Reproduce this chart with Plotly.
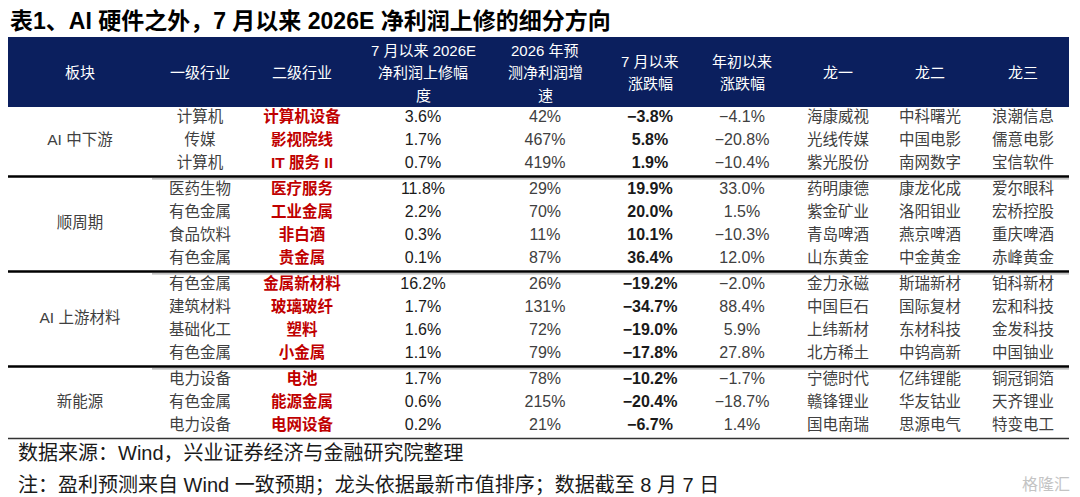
import plotly.graph_objects as go

# ---------------- 数据 ----------------
sectors = ["AI 中下游", "顺周期", "AI 上游材料", "新能源"]
group_sizes = [3, 4, 4, 3]

industry_l1 = ["计算机", "传媒", "计算机",
               "医药生物", "有色金属", "食品饮料", "有色金属",
               "有色金属", "建筑材料", "基础化工", "有色金属",
               "电力设备", "有色金属", "电力设备"]
industry_l2 = ["计算机设备", "影视院线", "IT 服务 II",
               "医疗服务", "工业金属", "非白酒", "贵金属",
               "金属新材料", "玻璃玻纤", "塑料", "小金属",
               "电池", "能源金属", "电网设备"]
profit_revision = [3.6, 1.7, 0.7, 11.8, 2.2, 0.3, 0.1, 16.2, 1.7, 1.6, 1.1, 1.7, 0.6, 0.2]
growth_2026 = [42, 467, 419, 29, 70, 11, 87, 26, 131, 72, 79, 78, 215, 21]
chg_since_jul = [-3.8, 5.8, 1.9, 19.9, 20.0, 10.1, 36.4, -19.2, -34.7, -19.0, -17.8, -10.2, -20.4, -6.7]
chg_ytd = [-4.1, -20.8, -10.4, 33.0, 1.5, -10.3, 12.0, -2.0, 88.4, 5.9, 27.8, -1.7, -18.7, 1.4]
leader1 = ["海康威视", "光线传媒", "紫光股份", "药明康德", "紫金矿业", "青岛啤酒", "山东黄金",
           "金力永磁", "中国巨石", "上纬新材", "北方稀土", "宁德时代", "赣锋锂业", "国电南瑞"]
leader2 = ["中科曙光", "中国电影", "南网数字", "康龙化成", "洛阳钼业", "燕京啤酒", "中金黄金",
           "斯瑞新材", "国际复材", "东材科技", "中钨高新", "亿纬锂能", "华友钴业", "思源电气"]
leader3 = ["浪潮信息", "儒意电影", "宝信软件", "爱尔眼科", "宏桥控股", "重庆啤酒", "赤峰黄金",
           "铂科新材", "宏和科技", "金发科技", "中国铀业", "铜冠铜箔", "天齐锂业", "特变电工"]

headers = [["板块"], ["一级行业"], ["二级行业"],
           ["7 月以来 2026E", "净利润上修幅", "度"],
           ["2026 年预", "测净利润增", "速"],
           ["7 月以来", "涨跌幅"], ["年初以来", "涨跌幅"],
           ["龙一"], ["龙二"], ["龙三"]]

title = "表1、AI 硬件之外，7 月以来 2026E 净利润上修的细分方向"
source = "数据来源：Wind，兴业证券经济与金融研究院整理"
note = "注：盈利预测来自 Wind 一致预期；龙头依据最新市值排序；数据截至 8 月 7 日"

# ---------------- 版式 ----------------
W, H = 1080, 497
OFF = 8  # 页面 body 默认留白
col_x = [80, 200, 302, 423, 545, 650, 742, 838, 930, 1023]
TABLE_L, TABLE_R = 5, 1069
HEAD_T, HEAD_B = 37, 107
ROW0, ROW_H, GROUP_GAP = 118, 23, 3
FONT = "Liberation Sans, Arial, Noto Sans CJK SC"
GREY = "#404040"
DARK = "#1a1a1a"
RED = "#C00000"


def pct(v, nd=1):
    s = f"{abs(v):.{nd}f}%"
    return ("−" + s) if v < 0 else s


# 每行纵坐标
row_y = []
i = 0
for g, n in enumerate(group_sizes):
    for _ in range(n):
        row_y.append(ROW0 + ROW_H * i + GROUP_GAP * g)
        i += 1

fig = go.Figure()

# 表头底色
fig.add_shape(type="rect", x0=TABLE_L, x1=TABLE_R, y0=HEAD_T, y1=HEAD_B,
              fillcolor="#0B1F5E", line=dict(width=0), layer="below")

# 表头文字（逐行放置，行距 22.5）
head_mid = (HEAD_T + HEAD_B) / 2 + 0.5
for x, lines in zip(col_x, headers):
    n = len(lines)
    for k, t in enumerate(lines):
        fig.add_annotation(x=x, y=head_mid + (k - (n - 1) / 2) * 22.5, text=t,
                           showarrow=False, yanchor="middle",
                           font=dict(family=FONT, size=15, color="white"))


def add_col(x, texts, color, bold=False, size=15.5):
    fig.add_trace(go.Scatter(
        x=[x] * len(texts), y=row_y, mode="text", text=texts,
        textposition="middle center", hoverinfo="skip", showlegend=False,
        textfont=dict(family=FONT, size=size, color=color,
                      weight="bold" if bold else "normal"),
    ))


add_col(col_x[1], industry_l1, GREY)
add_col(col_x[2], industry_l2, RED, bold=True)
add_col(col_x[3], [pct(v) for v in profit_revision], DARK, size=16)
add_col(col_x[4], [f"{v}%" for v in growth_2026], GREY, size=16)
add_col(col_x[5], [pct(v) for v in chg_since_jul], DARK, bold=True, size=16)
add_col(col_x[6], [pct(v) for v in chg_ytd], GREY, size=16)
add_col(col_x[7], leader1, GREY)
add_col(col_x[8], leader2, GREY)
add_col(col_x[9], leader3, GREY)

# 板块（合并单元格）与分隔线
start = 0
for g, n in enumerate(group_sizes):
    ys = row_y[start:start + n]
    fig.add_trace(go.Scatter(
        x=[col_x[0]], y=[(ys[0] + ys[-1]) / 2], mode="text", text=[sectors[g]],
        textposition="middle center", hoverinfo="skip", showlegend=False,
        textfont=dict(family=FONT, size=15.5, color=GREY),
    ))
    y_line = ys[-1] + 12.5
    if g < len(group_sizes) - 1:
        fig.add_shape(type="line", x0=TABLE_L, x1=TABLE_R, y0=y_line, y1=y_line,
                      line=dict(color="black", width=2.6))
        fig.add_shape(type="line", x0=152, x1=TABLE_R, y0=y_line + 2.4, y1=y_line + 2.4,
                      line=dict(color="#9a9a9a", width=1))
    else:
        fig.add_shape(type="line", x0=TABLE_L, x1=TABLE_R, y0=y_line, y1=y_line,
                      line=dict(color="#333333", width=1.6))
    start += n

# 标题与脚注
fig.add_annotation(x=8, y=21, text=f"<b>{title}</b>", showarrow=False,
                   xanchor="left", yanchor="middle",
                   font=dict(family=FONT, size=23, color="black"))
fig.add_annotation(x=16, y=453, text=source, showarrow=False,
                   xanchor="left", yanchor="middle",
                   font=dict(family=FONT, size=20, color="#1a1a1a"))
fig.add_annotation(x=16, y=485, text=note, showarrow=False,
                   xanchor="left", yanchor="middle",
                   font=dict(family=FONT, size=20, color="#1a1a1a"))
fig.add_annotation(x=1072, y=484, text="格隆汇", showarrow=False,
                   xanchor="right", yanchor="middle",
                   font=dict(family=FONT, size=16, color="#c4c4c4"))

fig.update_layout(
    width=W - OFF, height=H - OFF,
    margin=dict(l=0, r=0, t=0, b=0),
    paper_bgcolor="white", plot_bgcolor="white",
    xaxis=dict(range=[OFF, W], visible=False, fixedrange=True),
    yaxis=dict(range=[H, OFF], visible=False, fixedrange=True),
    showlegend=False,
)

fig.write_html("out.html")
